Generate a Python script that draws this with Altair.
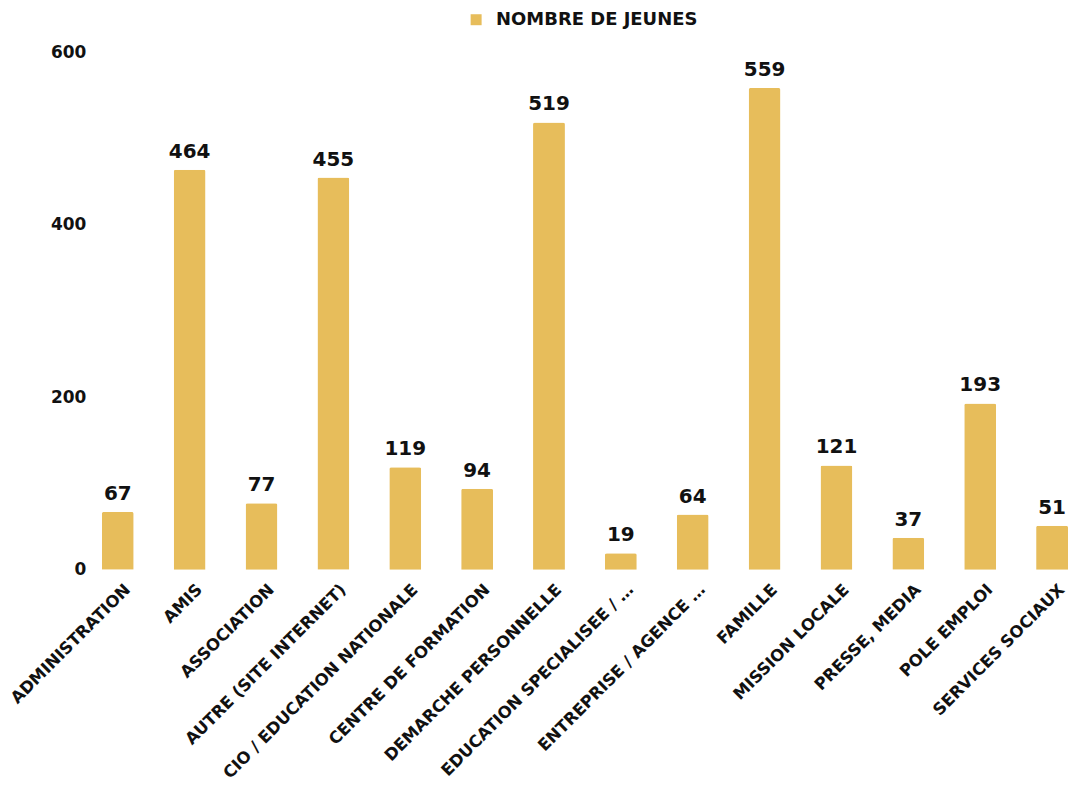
import altair as alt
import pandas as pd

categories = [
    "ADMINISTRATION", "AMIS", "ASSOCIATION", "AUTRE (SITE INTERNET)",
    "CIO / EDUCATION NATIONALE", "CENTRE DE FORMATION", "DEMARCHE PERSONNELLE",
    "EDUCATION SPECIALISEE / …", "ENTREPRISE / AGENCE …", "FAMILLE",
    "MISSION LOCALE", "PRESSE, MEDIA", "POLE EMPLOI", "SERVICES SOCIAUX",
]
values = [67, 464, 77, 455, 119, 94, 519, 19, 64, 559, 121, 37, 193, 51]
series_name = "NOMBRE DE JEUNES"
y_ticks = [0, 200, 400, 600]

df = pd.DataFrame({"cat": categories, "val": values, "series": series_name})

FONT = "DejaVu Sans"
GOLD = "#E7BD5B"

x = alt.X(
    "cat:N",
    sort=None,
    title=None,
    scale=alt.Scale(paddingInner=0.556, paddingOuter=0.139),
    axis=alt.Axis(
        labelAngle=-45,
        labelAlign="right",
        labelBaseline="middle",
        labelFont=FONT,
        labelFontWeight="bold",
        labelFontSize=16.5,
        labelColor="#111111",
        labelPadding=17,
        labelOffset=10,
        labelLimit=400,
        ticks=False,
        domain=False,
        grid=False,
    ),
)

bars = alt.Chart(df).mark_bar(
    cornerRadiusTopLeft=2, cornerRadiusTopRight=2
).encode(
    x=x,
    y=alt.Y(
        "val:Q",
        title=None,
        scale=alt.Scale(domain=[0, 600], nice=False),
        axis=alt.Axis(
            values=y_ticks,
            labelFont=FONT,
            labelFontWeight="bold",
            labelFontSize=17,
            labelColor="#111111",
            labelPadding=6,
            ticks=False,
            domain=False,
            grid=False,
        ),
    ),
    color=alt.Color(
        "series:N",
        scale=alt.Scale(domain=[series_name], range=[GOLD]),
        legend=alt.Legend(
            title=None,
            orient="none",
            legendX=376,
            legendY=-42,
            symbolType="square",
            symbolSize=121,
            symbolStrokeWidth=0,
            labelFont=FONT,
            labelFontWeight="bold",
            labelFontSize=18,
            labelColor="#111111",
            labelOffset=11,
            labelLimit=500,
        ),
    ),
)

labels = alt.Chart(df).mark_text(
    baseline="bottom", dy=-8, font=FONT, fontWeight="bold", fontSize=20, color="#111111"
).encode(
    x=alt.X("cat:N", sort=None),
    y=alt.Y("val:Q"),
    text=alt.Text("val:Q"),
)

chart = (
    alt.layer(bars, labels)
    .properties(
        width=988,
        height=518,
        background="white",
        autosize=alt.AutoSizeParams(type="none"),
        padding={"left": 84, "top": 44, "right": 0, "bottom": 230},
    )
    .configure_view(strokeWidth=0, stroke="transparent")
)

chart.save("out.html", embed_options={"renderer": "svg", "actions": False})
